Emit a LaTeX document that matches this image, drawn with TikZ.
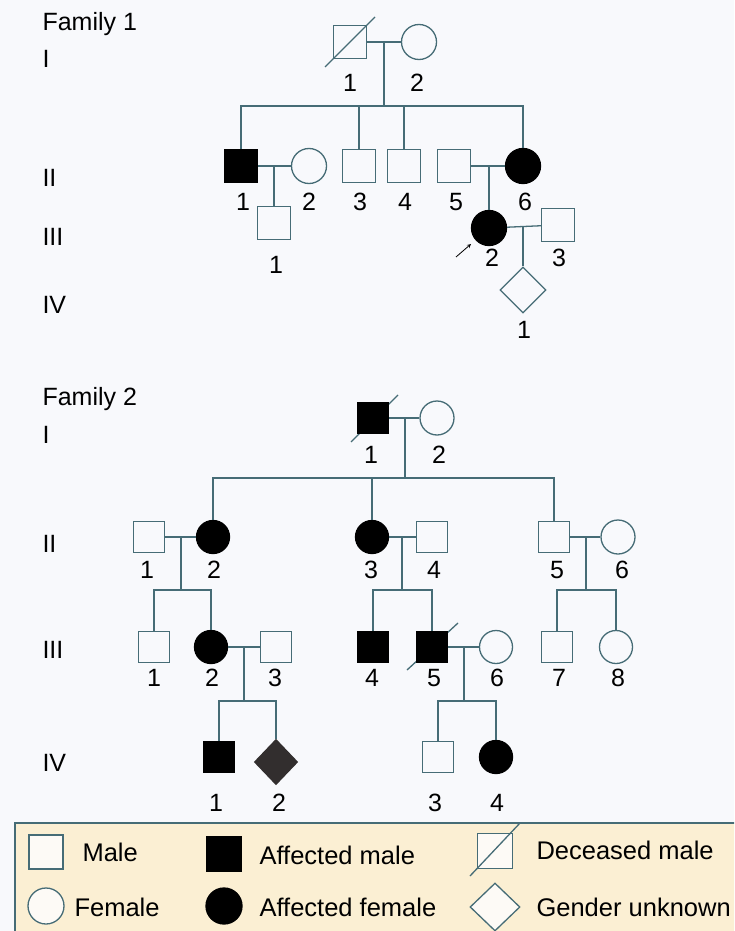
\documentclass[tikz,border=0pt]{standalone}
\usepackage{fontspec}
\setmainfont{Liberation Sans}
\usetikzlibrary{arrows,shapes.geometric,positioning}
\definecolor{pedline}{RGB}{70,108,118}
\definecolor{pedback}{RGB}{248,249,252}
\definecolor{legback}{RGB}{251,239,211}
\definecolor{legshape}{RGB}{253,250,246}
\definecolor{unkgray}{RGB}{50,46,46}
\tikzset{
  pd/.style={draw=pedline,line width=1.3pt,inner sep=0pt},
  male/.style={pd,rectangle,minimum size=33pt},
  female/.style={pd,circle,minimum size=35pt},
  unknown/.style={pd,diamond,minimum width=46pt,minimum height=46pt},
  aff/.style={fill=black,draw=black},
  conn/.style={draw=pedline,line width=1.3pt},
  gen/.style={anchor=west},
  legtext/.style={anchor=west,font=\fontsize{25.5}{28}\selectfont},
}
\begin{document}
\begin{tikzpicture}[x=1pt,y=-1pt,font=\fontsize{25}{28}\selectfont]
	\useasboundingbox (0,0) rectangle (734,931);
	\clip (0,0) rectangle (734,931);
	\fill[pedback] (0,0) rectangle (734,931);
	% family 1
	\node[gen] (t1) at (39,24) {Family 1};
	\node[gen] (g1a) at (39,59) {I};
	\node[gen] (g1b) at (39,178) {II};
	\node[gen] (g1c) at (39,237) {III};
	\node[gen] (g1d) at (39,305) {IV};
	\draw[conn] (325,67) -- (375,17);
	\node[male] (f1i1) at (350,42) {};
	\node[female] (f1i2) at (419,42) {};
	\node[male,aff] (f1ii1) at (241,166) {};
	\node[female] (f1ii2) at (309,166) {};
	\node[male] (f1ii3) at (359,166) {};
	\node[male] (f1ii4) at (404,166) {};
	\node[male] (f1ii5) at (454,166) {};
	\node[female,aff] (f1ii6) at (523,166) {};
	\node[male] (f1iii1) at (274,223) {};
	\node[female,aff] (f1iii2) at (489,228) {};
	\node[male] (f1iii3) at (558,225) {};
	\node[unknown] (f1iv1) at (523,290) {};
	\node (f1l1a) at (350,83) {1};
	\node (f1l1b) at (417,83) {2};
	\node (f1l2a) at (243,202) {1};
	\node (f1l2b) at (309,202) {2};
	\node (f1l2c) at (360,202) {3};
	\node (f1l2d) at (405,202) {4};
	\node (f1l2e) at (456,202) {5};
	\node (f1l2f) at (525,202) {6};
	\node (f1l3a) at (276,265) {1};
	\node (f1l3b) at (492,258) {2};
	\node (f1l3c) at (559,258) {3};
	\node (f1l4a) at (524,330) {1};
	\coordinate (f1m1) at (384,42);
	\coordinate (f1s1) at (384,106);
	\coordinate (f1m2) at (274,166);
	\coordinate (f1m3) at (489,166);
	\coordinate (f1m4) at (523,227);
	\coordinate (f1arA) at (456,257);
	\coordinate (f1arB) at (471,244);
	\draw[conn] (f1i1) -- (f1i2);
	\draw[conn] (f1m1) -- (f1s1);
	\draw[conn] (f1ii1.north) |- (f1s1) -| (f1ii6.north);
	\draw[conn] (f1ii3.north) -- (f1ii3.north |- f1s1);
	\draw[conn] (f1ii4.north) -- (f1ii4.north |- f1s1);
	\draw[conn] (f1ii1) -- (f1ii2);
	\draw[conn] (f1m2) -- (f1iii1.north);
	\draw[conn] (f1ii5) -- (f1ii6);
	\draw[conn] (f1m3) -- (f1iii2.north);
	\draw[conn] (f1iii2) -- (f1iii3);
	\draw[conn] (f1m4) -- (f1iv1.north);
	\draw[-stealth,line width=0.8pt] (f1arA) -- (f1arB);
	% family 2
	\node[gen] (t2) at (39,399) {Family 2};
	\node[gen] (g2a) at (39,435) {I};
	\node[gen] (g2b) at (39,544) {II};
	\node[gen] (g2c) at (39,650) {III};
	\node[gen] (g2d) at (39,763) {IV};
	\draw[conn] (351,442) -- (398,395);
	\draw[conn] (407,670) -- (458,623);
	\node[male,aff,minimum size=31pt] (f2i1) at (373,418) {};
	\node[female,minimum size=34pt] (f2i2) at (437,418) {};
	\node[male,minimum size=31pt] (f2ii1) at (149,537) {};
	\node[female,aff,minimum size=33pt] (f2ii2) at (213,537) {};
	\node[female,aff,minimum size=33pt] (f2ii3) at (372,537) {};
	\node[male,minimum size=31pt] (f2ii4) at (432,537) {};
	\node[male,minimum size=31pt] (f2ii5) at (554,537) {};
	\node[female,minimum size=34pt] (f2ii6) at (618,537) {};
	\node[male,minimum size=31pt] (f2iii1) at (154,647) {};
	\node[female,aff,minimum size=33pt] (f2iii2) at (211,647) {};
	\node[male,minimum size=31pt] (f2iii3) at (276,647) {};
	\node[male,aff,minimum size=31pt] (f2iii4) at (373,647) {};
	\node[male,aff,minimum size=31pt] (f2iii5) at (432,647) {};
	\node[female,minimum size=33pt] (f2iii6) at (496,647) {};
	\node[male,minimum size=31pt] (f2iii7) at (557,647) {};
	\node[female,minimum size=33pt] (f2iii8) at (616,647) {};
	\node[male,aff,minimum size=31pt] (f2iv1) at (219,757) {};
	\node[unknown,fill=unkgray,draw=unkgray,minimum width=43pt,minimum height=45pt] (f2iv2) at (276,762) {};
	\node[male,minimum size=31pt] (f2iv3) at (438,757) {};
	\node[female,aff,minimum size=33pt] (f2iv4) at (496,757) {};
	\node (f2l1a) at (371,455) {1};
	\node (f2l1b) at (439,455) {2};
	\node (f2l2a) at (147,570) {1};
	\node (f2l2b) at (214,570) {2};
	\node (f2l2c) at (371,570) {3};
	\node (f2l2d) at (434,570) {4};
	\node (f2l2e) at (557,570) {5};
	\node (f2l2f) at (622,570) {6};
	\node (f2l3a) at (154,678) {1};
	\node (f2l3b) at (212,678) {2};
	\node (f2l3c) at (275,678) {3};
	\node (f2l3d) at (372,678) {4};
	\node (f2l3e) at (434,678) {5};
	\node (f2l3f) at (497,678) {6};
	\node (f2l3g) at (559,678) {7};
	\node (f2l3h) at (618,678) {8};
	\node (f2l4a) at (216,803) {1};
	\node (f2l4b) at (279,803) {2};
	\node (f2l4c) at (435,803) {3};
	\node (f2l4d) at (497,803) {4};
	\coordinate (f2m1) at (405,418);
	\coordinate (f2s1) at (405,478);
	\coordinate (f2m2) at (181,537);
	\coordinate (f2s2) at (181,590);
	\coordinate (f2m3) at (402,537);
	\coordinate (f2s3) at (402,590);
	\coordinate (f2m4) at (586,537);
	\coordinate (f2s4) at (586,590);
	\coordinate (f2m5) at (244,647);
	\coordinate (f2s5) at (244,701);
	\coordinate (f2m6) at (464,647);
	\coordinate (f2s6) at (464,701);
	\draw[conn] (f2i1) -- (f2i2);
	\draw[conn] (f2m1) -- (f2s1);
	\draw[conn] (f2ii2.north) |- (f2s1) -| (f2ii5.north);
	\draw[conn] (f2ii3.north) -- (f2ii3.north |- f2s1);
	\draw[conn] (f2ii1) -- (f2ii2);
	\draw[conn] (f2m2) -- (f2s2);
	\draw[conn] (f2iii1.north) |- (f2s2) -| (f2iii2.north);
	\draw[conn] (f2ii3) -- (f2ii4);
	\draw[conn] (f2m3) -- (f2s3);
	\draw[conn] (f2iii4.north) |- (f2s3) -| (f2iii5.north);
	\draw[conn] (f2ii5) -- (f2ii6);
	\draw[conn] (f2m4) -- (f2s4);
	\draw[conn] (f2iii7.north) |- (f2s4) -| (f2iii8.north);
	\draw[conn] (f2iii2) -- (f2iii3);
	\draw[conn] (f2m5) -- (f2s5);
	\draw[conn] (f2iv1.north) |- (f2s5) -| (f2iv2.north);
	\draw[conn] (f2iii5) -- (f2iii6);
	\draw[conn] (f2m6) -- (f2s6);
	\draw[conn] (f2iv3.north) |- (f2s6) -| (f2iv4.north);
	% legend
	\filldraw[fill=legback,draw=pedline,line width=1.3pt] (15,823) rectangle (760,960);
	\node[male,fill=legshape,minimum size=34pt] (lgm) at (46,852) {};
	\node[female,fill=legshape,minimum size=36pt] (lgf) at (46,906) {};
	\node[male,aff,minimum size=35pt] (lgam) at (224,854) {};
	\node[female,aff,minimum size=36pt] (lgaf) at (224,906) {};
	\node[male,fill=legshape,minimum size=35pt] (lgdm) at (495,851) {};
	\node[unknown,fill=legshape,minimum width=50pt,minimum height=48pt] (lgu) at (495,907) {};
	\draw[conn] ([shift={(-25,25)}]lgdm.center) -- ([shift={(25,-28)}]lgdm.center);
	\node[legtext] (lgmt) at (79,852) {Male};
	\node[legtext] (lgft) at (71,907) {Female};
	\node[legtext] (lgamt) at (256,855) {Affected male};
	\node[legtext] (lgaft) at (256,907) {Affected female};
	\node[legtext] (lgdmt) at (533,850) {Deceased male};
	\node[legtext] (lgut) at (533,907) {Gender unknown};
\end{tikzpicture}
\end{document}
